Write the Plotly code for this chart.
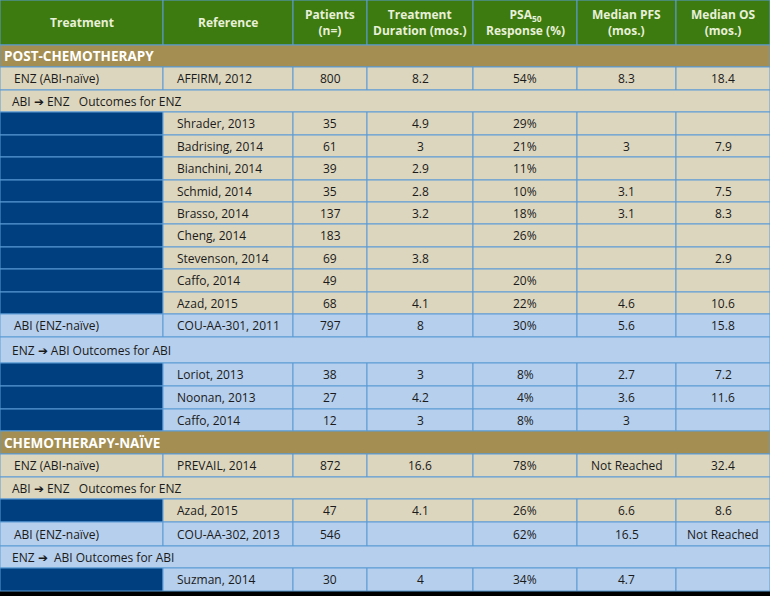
import plotly.graph_objects as go

headers = ["Treatment", "Reference", "Patients<br>(n=)", "Treatment<br>Duration (mos.)",
           "PSA<sub>50</sub><br>Response (%)", "Median PFS<br>(mos.)", "Median OS<br>(mos.)"]
col_edges = [0, 163, 293, 367, 473, 577, 676, 770]
row_edges = [0, 45, 67, 90, 112, 135, 157, 180, 202, 224, 247, 269, 292, 314, 337, 363,
             386, 409, 431, 454, 477, 499, 522, 546, 568, 591]

# row kind: sec = section, main = first-line result, span = sequence label, sub = study row
row_kind = ["sec", "main", "span", "sub", "sub", "sub", "sub", "sub", "sub", "sub", "sub", "sub",
            "main", "span", "sub", "sub", "sub",
            "sec", "main", "span", "sub", "main", "span", "sub"]
row_theme = ["", "b", "b", "b", "b", "b", "b", "b", "b", "b", "b", "b",
             "l", "l", "l", "l", "l",
             "", "b", "b", "b", "l", "l", "l"]
treatment = ["POST-CHEMOTHERAPY", "ENZ (ABI-naïve)", "ABI ➔ ENZ   Outcomes for ENZ", "", "", "", "", "", "", "", "", "",
             "ABI (ENZ-naïve)", "ENZ ➔ ABI Outcomes for ABI", "", "", "",
             "CHEMOTHERAPY-NAÏVE", "ENZ (ABI-naïve)", "ABI ➔ ENZ   Outcomes for ENZ", "",
             "ABI (ENZ-naïve)", "ENZ ➔  ABI Outcomes for ABI", ""]
reference = ["", "AFFIRM, 2012", "", "Shrader, 2013", "Badrising, 2014", "Bianchini, 2014", "Schmid, 2014",
             "Brasso, 2014", "Cheng, 2014", "Stevenson, 2014", "Caffo, 2014", "Azad, 2015",
             "COU-AA-301, 2011", "", "Loriot, 2013", "Noonan, 2013", "Caffo, 2014",
             "", "PREVAIL, 2014", "", "Azad, 2015", "COU-AA-302, 2013", "", "Suzman, 2014"]
patients = ["", "800", "", "35", "61", "39", "35", "137", "183", "69", "49", "68",
            "797", "", "38", "27", "12", "", "872", "", "47", "546", "", "30"]
duration = ["", "8.2", "", "4.9", "3", "2.9", "2.8", "3.2", "", "3.8", "", "4.1",
            "8", "", "3", "4.2", "3", "", "16.6", "", "4.1", "", "", "4"]
psa50 = ["", "54%", "", "29%", "21%", "11%", "10%", "18%", "26%", "", "20%", "22%",
         "30%", "", "8%", "4%", "8%", "", "78%", "", "26%", "62%", "", "34%"]
pfs = ["", "8.3", "", "", "3", "", "3.1", "3.1", "", "", "", "4.6",
       "5.6", "", "2.7", "3.6", "3", "", "Not Reached", "", "6.6", "16.5", "", "4.7"]
os_ = ["", "18.4", "", "", "7.9", "", "7.5", "8.3", "", "2.9", "", "10.6",
       "15.8", "", "7.2", "11.6", "", "", "32.4", "", "8.6", "Not Reached", "", ""]

GREEN = "#3d7a10"; BROWN = "#a48e52"; BEIGE = "#ddd6be"; LBLUE = "#b6cfec"; DBLUE = "#003f7f"
GRID = "#5b9bd5"; TXT = "#1a1a1a"
FONT = "Open Sans"

shapes = []
ann = []

def rect(x0, x1, y0, y1, fill):
    shapes.append(dict(type="rect", xref="x", yref="y", x0=x0, x1=x1, y0=y0, y1=y1,
                       fillcolor=fill, line=dict(color=GRID, width=1)))

def text(x, y, s, color=TXT, size=12, bold=False, align="center"):
    if bold:
        s = "<b>" + s + "</b>"
    ann.append(dict(xref="x", yref="y", x=x, y=y, text=s, showarrow=False,
                    xanchor=align, yanchor="middle", align=align,
                    font=dict(family=FONT, size=size, color=color)))

# header
for i, h in enumerate(headers):
    x0, x1 = col_edges[i], col_edges[i + 1]
    rect(x0, x1, row_edges[0], row_edges[1], GREEN)
    text((x0 + x1) / 2, (row_edges[0] + row_edges[1]) / 2, h, color="#e8f0d8", size=12, bold=True)

cols = [treatment, reference, patients, duration, psa50, pfs, os_]
for r in range(len(row_kind)):
    y0, y1 = row_edges[r + 1], row_edges[r + 2]
    ym = (y0 + y1) / 2
    kind = row_kind[r]
    fill = BEIGE if row_theme[r] == "b" else LBLUE
    if kind == "sec":
        rect(0, 770, y0, y1, BROWN)
        text(2, ym, treatment[r], color="white", size=13.5, bold=True, align="left")
        continue
    if kind == "span":
        rect(0, 770, y0, y1, fill)
        text(10, ym, treatment[r], align="left")
        continue
    for c in range(7):
        x0, x1 = col_edges[c], col_edges[c + 1]
        f = DBLUE if (kind == "sub" and c == 0) else fill
        rect(x0, x1, y0, y1, f)
        v = cols[c][r]
        if not v:
            continue
        if c < 2:
            text(x0 + 12, ym, v, align="left")
        else:
            text((x0 + x1) / 2, ym, v)

fig = go.Figure()
fig.add_trace(go.Scatter(x=[0, 770], y=[0, 596], mode="markers", marker=dict(opacity=0),
                         hoverinfo="skip", showlegend=False))
fig.update_layout(width=770, height=596, margin=dict(l=0, r=0, t=0, b=0),
                  paper_bgcolor="black", plot_bgcolor="black",
                  shapes=shapes, annotations=ann, showlegend=False,
                  xaxis=dict(range=[0, 770], visible=False, fixedrange=True),
                  yaxis=dict(range=[596, 0], visible=False, fixedrange=True))
fig.write_html("out.html", config={"displayModeBar": False},
               post_script="document.body.style.margin='0';document.body.style.background='black';")
